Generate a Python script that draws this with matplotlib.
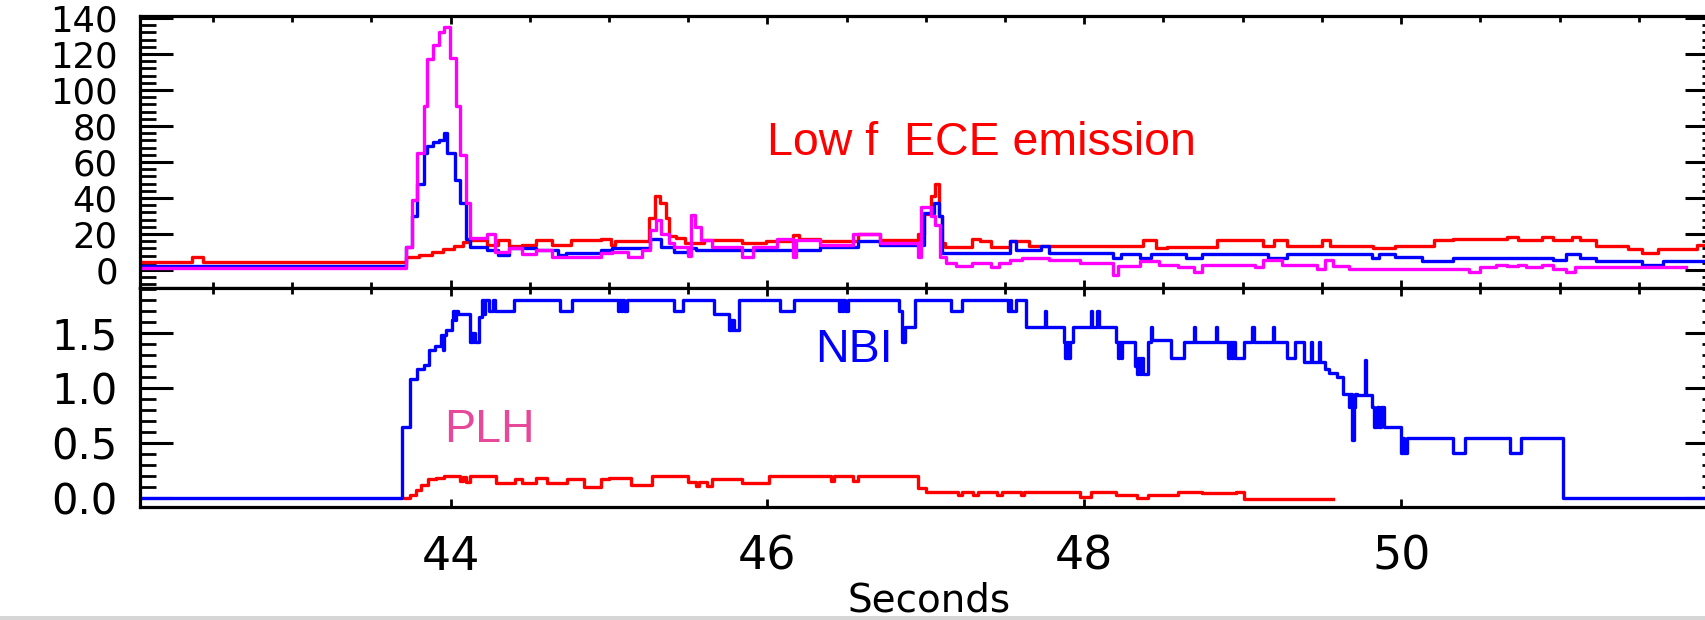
import matplotlib
matplotlib.use("Agg")
import matplotlib.pyplot as plt
from matplotlib.ticker import MultipleLocator, FixedLocator, FormatStrFormatter
from matplotlib.patches import Rectangle

# ---------------- data (time [s], value) ----------------
ece_red = [
    (42.04, 4.5), (42.37, 7.0), (42.44, 4.5), (43.72, 7.5), (43.80, 8.5), (43.88, 10.0),
    (43.95, 11.5), (44.02, 13.5), (44.08, 15.5), (44.12, 16.5), (44.23, 14.0), (44.30, 16.7),
    (44.37, 13.5), (44.45, 14.0), (44.54, 16.7), (44.64, 14.0), (44.76, 16.5), (44.95, 17.5),
    (45.01, 14.0), (45.04, 16.0), (45.25, 29.0), (45.29, 41.0), (45.32, 37.0), (45.36, 29.0),
    (45.38, 19.0), (45.42, 18.0), (45.48, 15.0), (45.60, 16.5), (45.84, 15.0), (45.99, 16.0),
    (46.16, 19.5), (46.20, 17.0), (46.33, 16.0), (46.57, 20.0), (46.71, 16.5), (46.95, 20.0),
    (46.99, 31.0), (47.03, 41.0), (47.06, 48.0), (47.08, 30.0), (47.10, 15.0), (47.12, 13.0),
    (47.29, 17.5), (47.34, 16.0), (47.41, 13.0), (47.53, 16.0), (47.65, 13.5), (48.37, 16.5),
    (48.45, 12.5), (48.52, 13.0), (48.84, 16.5), (49.13, 13.5), (49.20, 16.5), (49.28, 13.5),
    (49.50, 16.5), (49.55, 13.5), (49.82, 12.5), (49.96, 13.5), (50.21, 16.5), (50.33, 17.0),
    (50.67, 18.5), (50.74, 16.5), (50.89, 18.5), (50.96, 16.5), (51.08, 18.5), (51.13, 16.5),
    (51.23, 13.5), (51.43, 11.5), (51.52, 9.5), (51.62, 11.5), (51.87, 14.0), (52.00, 14.0),
]

ece_blue = [
    (42.04, 2.0), (43.72, 13.0), (43.756, 30.0), (43.79, 48.0), (43.83, 65.0), (43.853, 69.0),
    (43.89, 71.0), (43.925, 72.0), (43.96, 76.0), (43.98, 65.0), (44.03, 50.0), (44.058, 37.0),
    (44.095, 17.0), (44.12, 13.0), (44.23, 11.0), (44.30, 8.5), (44.37, 12.0), (44.54, 11.0),
    (44.68, 8.5), (44.73, 9.3), (44.95, 11.0), (45.02, 12.0), (45.26, 17.0), (45.33, 13.0),
    (45.41, 10.0), (45.50, 12.0), (45.55, 11.0), (46.33, 13.0), (46.57, 16.0), (46.71, 14.0),
    (46.99, 31.5), (47.05, 37.0), (47.08, 30.0), (47.10, 9.3), (47.53, 16.0), (47.57, 11.0),
    (47.73, 13.5), (47.78, 9.3), (48.18, 6.6), (48.23, 9.0), (48.35, 6.6), (48.42, 9.0),
    (48.64, 6.6), (48.74, 9.0), (49.16, 6.6), (49.28, 9.0), (49.815, 6.6), (49.86, 9.0),
    (49.96, 7.0), (50.13, 4.8), (50.33, 6.9), (50.96, 5.5), (51.04, 9.0), (51.13, 6.6),
    (51.23, 4.8), (51.52, 3.0), (51.65, 4.8), (52.00, 4.8),
]

ece_magenta = [
    (42.04, 1.0), (43.72, 13.0), (43.756, 39.0), (43.79, 65.0), (43.83, 91.0), (43.853, 117.0),
    (43.89, 125.0), (43.925, 132.0), (43.96, 135.0), (43.998, 118.0), (44.034, 91.0),
    (44.058, 64.0), (44.095, 37.0), (44.12, 18.0), (44.23, 20.0), (44.28, 10.0), (44.37, 12.0),
    (44.45, 9.0), (44.54, 11.0), (44.64, 7.4), (44.73, 7.4), (44.95, 9.3), (45.02, 10.0),
    (45.12, 7.4), (45.21, 11.0), (45.26, 22.0), (45.30, 28.0), (45.33, 20.0), (45.38, 15.0),
    (45.41, 13.0), (45.50, 8.0), (45.52, 30.5), (45.54, 24.0), (45.58, 16.5), (45.65, 13.0),
    (45.84, 7.4), (45.91, 13.0), (46.06, 17.5), (46.16, 7.4), (46.18, 16.5), (46.33, 14.0),
    (46.54, 20.0), (46.71, 15.0), (46.95, 7.4), (46.97, 35.0), (47.03, 30.0), (47.06, 25.0),
    (47.09, 7.4), (47.13, 3.7), (47.19, 2.0), (47.29, 3.7), (47.41, 1.9), (47.46, 3.7),
    (47.53, 5.5), (47.61, 6.5), (47.78, 5.5), (47.97, 3.7), (48.18, -3.0), (48.21, 2.0),
    (48.35, 4.8), (48.47, 3.0), (48.59, 1.5), (48.69, -0.9), (48.74, 3.0), (49.08, 1.5),
    (49.13, 5.5), (49.25, 2.6), (49.47, 0.7), (49.52, 5.5), (49.57, 2.0), (49.67, 0.4),
    (50.43, -0.9), (50.50, 1.5), (50.60, 3.0), (50.67, 2.0), (50.74, 3.0), (50.79, 1.5),
    (50.89, 3.0), (50.96, 0.7), (51.04, -0.9), (51.10, 1.5), (51.80, 1.5),
]

nbi = [
    (42.00, 0.0), (43.696, 0.65), (43.744, 1.08), (43.79, 1.17), (43.83, 1.21), (43.865, 1.35),
    (43.90, 1.38), (43.94, 1.48), (43.95, 1.35), (43.957, 1.48), (43.97, 1.53), (44.01, 1.62),
    (44.018, 1.70), (44.026, 1.62), (44.034, 1.70), (44.046, 1.67), (44.12, 1.42), (44.128, 1.50),
    (44.136, 1.42), (44.144, 1.50), (44.152, 1.42), (44.18, 1.65), (44.20, 1.80), (44.21, 1.67),
    (44.22, 1.80), (44.24, 1.70), (44.27, 1.80), (44.28, 1.70), (44.40, 1.80), (44.69, 1.70),
    (44.765, 1.80), (45.055, 1.70), (45.065, 1.80), (45.075, 1.70), (45.085, 1.80),
    (45.095, 1.70), (45.115, 1.80), (45.41, 1.70), (45.47, 1.80), (45.66, 1.67), (45.76, 1.53),
    (45.768, 1.62), (45.776, 1.53), (45.784, 1.62), (45.792, 1.53), (45.82, 1.80), (46.08, 1.70),
    (46.17, 1.80), (46.45, 1.70), (46.46, 1.80), (46.47, 1.70), (46.48, 1.80), (46.49, 1.70),
    (46.51, 1.80), (46.83, 1.70), (46.85, 1.42), (46.87, 1.56), (46.93, 1.80), (47.16, 1.70),
    (47.23, 1.80), (47.52, 1.70), (47.53, 1.80), (47.54, 1.70), (47.57, 1.80), (47.63, 1.56),
    (47.75, 1.70), (47.76, 1.56), (47.87, 1.42), (47.88, 1.27), (47.89, 1.42), (47.90, 1.27),
    (47.91, 1.42), (47.93, 1.56), (48.04, 1.70), (48.05, 1.56), (48.08, 1.70), (48.09, 1.56),
    (48.20, 1.42), (48.21, 1.27), (48.22, 1.42), (48.23, 1.27), (48.24, 1.42), (48.32, 1.20),
    (48.33, 1.13), (48.34, 1.27), (48.35, 1.13), (48.36, 1.27), (48.37, 1.13), (48.40, 1.42),
    (48.42, 1.56), (48.43, 1.44), (48.545, 1.27), (48.63, 1.42), (48.69, 1.56), (48.70, 1.42),
    (48.83, 1.56), (48.84, 1.42), (48.91, 1.27), (48.92, 1.42), (48.93, 1.27), (48.94, 1.42),
    (48.95, 1.27), (49.01, 1.42), (49.06, 1.56), (49.07, 1.42), (49.19, 1.56), (49.20, 1.42),
    (49.28, 1.27), (49.33, 1.42), (49.39, 1.24), (49.43, 1.42), (49.44, 1.24), (49.48, 1.42),
    (49.49, 1.24), (49.52, 1.17), (49.546, 1.14), (49.595, 1.10), (49.63, 0.95), (49.67, 0.83),
    (49.68, 0.95), (49.69, 0.53), (49.70, 0.83), (49.71, 0.95), (49.72, 0.94), (49.77, 1.26),
    (49.78, 0.94), (49.815, 0.83), (49.83, 0.65), (49.845, 0.83), (49.86, 0.65), (49.875, 0.83),
    (49.89, 0.65), (50.00, 0.41), (50.01, 0.545), (50.02, 0.41), (50.035, 0.545), (50.33, 0.41),
    (50.40, 0.545), (50.69, 0.41), (50.755, 0.545), (51.02, 0.0), (52.00, 0.0),
]

plh = [
    (43.71, 0.0), (43.745, 0.03), (43.78, 0.076), (43.815, 0.12), (43.86, 0.17), (43.91, 0.18),
    (43.96, 0.20), (44.06, 0.16), (44.08, 0.19), (44.10, 0.15), (44.12, 0.20), (44.29, 0.14),
    (44.41, 0.17), (44.45, 0.14), (44.54, 0.18), (44.61, 0.14), (44.735, 0.17), (44.84, 0.10),
    (44.95, 0.17), (45.00, 0.18), (45.14, 0.12), (45.27, 0.20), (45.50, 0.15), (45.55, 0.11),
    (45.57, 0.15), (45.62, 0.11), (45.65, 0.17), (45.84, 0.14), (46.01, 0.20), (46.40, 0.16),
    (46.42, 0.20), (46.54, 0.16), (46.57, 0.20), (46.95, 0.09), (47.00, 0.06), (47.20, 0.03),
    (47.23, 0.06), (47.30, 0.03), (47.33, 0.06), (47.45, 0.03), (47.48, 0.06), (47.60, 0.03),
    (47.62, 0.06), (47.97, 0.015), (48.04, 0.06), (48.20, 0.03), (48.33, 0.0), (48.40, 0.03),
    (48.59, 0.06), (48.74, 0.045), (48.96, 0.06), (49.01, -0.01), (49.57, -0.01),
]

x_major_ticks = [44, 46, 48, 50]
top_yticks = [0, 20, 40, 60, 80, 100, 120, 140]
bottom_yticks = [0.0, 0.5, 1.0, 1.5]

# ---------------- figure ----------------
W, H = 1706, 620
fig = plt.figure(figsize=(W / 100, H / 100), dpi=100)
fig.patch.set_facecolor("white")

left = 140 / W
width = (1718 - 140) / W
ax1 = fig.add_axes([left, (H - 288) / H, width, (288 - 15.5) / H])
ax2 = fig.add_axes([left, (H - 507) / H, width, (507 - 288) / H])

XLIM = (42.04, 52.0)


def unzip(pairs):
    return [p[0] for p in pairs], [p[1] for p in pairs]


lw = 2.4
for series, col in [(ece_red, "#ff0000"), (ece_blue, "#0000ff"), (ece_magenta, "#ff00ff")]:
    t, v = unzip(series)
    ax1.plot(t, v, drawstyle="steps-post", color=col, lw=lw)

t, v = unzip(plh)
ax2.plot(t, v, drawstyle="steps-post", color="#ff0000", lw=lw)
t, v = unzip(nbi)
ax2.plot(t, v, drawstyle="steps-post", color="#0000ff", lw=lw)

for ax in (ax1, ax2):
    ax.set_xlim(*XLIM)
    ax.xaxis.set_major_locator(FixedLocator(x_major_ticks))
    ax.xaxis.set_minor_locator(MultipleLocator(0.5))
    for s in ax.spines.values():
        s.set_linewidth(2.3)
    ax.tick_params(axis="x", which="major", direction="in", length=6, width=2.0,
                   top=True, bottom=True)
    ax.tick_params(axis="x", which="minor", direction="in", length=4.5, width=2.0,
                   top=True, bottom=True)
    ax.tick_params(axis="y", which="major", direction="in", length=24, width=2.2,
                   left=True, right=True, pad=16)
    ax.tick_params(axis="y", which="minor", direction="in", length=11.5, width=2.0,
                   left=True, right=True)

ax1.set_ylim(-10.0, 141.4)
ax1.yaxis.set_major_locator(FixedLocator(top_yticks))
ax1.yaxis.set_minor_locator(MultipleLocator(4))
ax1.tick_params(axis="x", labelbottom=False)
ax1.tick_params(axis="y", labelsize=25.5)

ax2.set_ylim(-0.08, 1.91)
ax2.yaxis.set_major_locator(FixedLocator(bottom_yticks))
ax2.yaxis.set_minor_locator(MultipleLocator(0.1))
ax2.yaxis.set_major_formatter(FormatStrFormatter("%.1f"))
ax2.tick_params(axis="y", labelsize=30)
ax2.tick_params(axis="x", which="minor", bottom=False)
ax2.tick_params(axis="x", which="major", labelsize=33, pad=20)
ax2.set_xlabel("Seconds", fontsize=28, family="DejaVu Sans")
ax2.xaxis.label.set_va("baseline")
ax2.xaxis.set_label_coords(0.5, (507 - 612) / 219)

for lab in ax1.get_yticklabels() + ax2.get_yticklabels() + ax2.get_xticklabels():
    lab.set_family("DejaVu Sans")

ann = dict(family="Liberation Sans", fontsize=33.5, va="baseline", ha="left")
ax1.text(46.0, 64.0, "Low f  ECE emission", color="#ff0000", **ann)
ax2.text(46.30, 1.236, "NBI", color="#0000ff", **ann)
ax2.text(43.96, 0.51, "PLH", color="#e8489a", **ann)

# light grey strip along the bottom edge
fig.patches.append(Rectangle((0, 0), 1, 4 / H, transform=fig.transFigure,
                             facecolor="#d6d6d6", edgecolor="none", zorder=10))

fig.savefig("out.png", dpi=100, facecolor="white")
